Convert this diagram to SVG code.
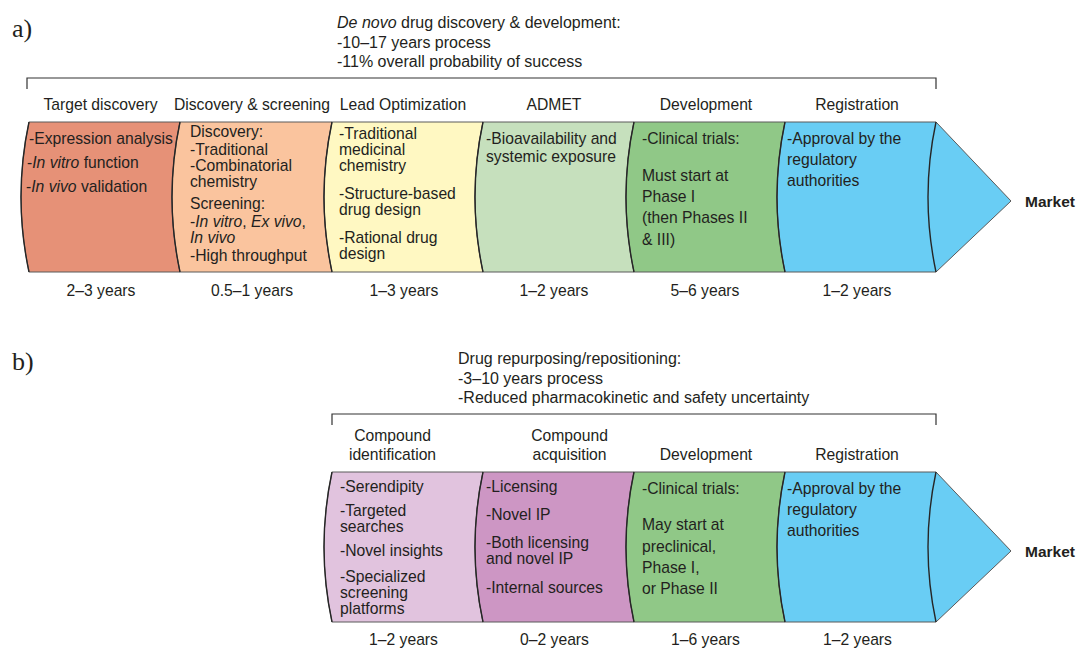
<svg xmlns="http://www.w3.org/2000/svg" width="1077" height="648" viewBox="0 0 1077 648">
<style>
text{font-family:"Liberation Sans",Arial,Helvetica,sans-serif;fill:#231f20;font-size:15.7px}
.h{font-size:16px}
.c{text-anchor:middle}
.i{font-style:italic}
.mk{font-weight:bold;font-size:15.5px}
.pl{font-family:"Liberation Serif","Times New Roman",serif;font-size:26px}
.seg{stroke:#5a5a5a;stroke-width:1}
.cv{fill:none;stroke:#262626;stroke-width:1.4}
.br{fill:none;stroke:#333;stroke-width:1.2}
</style>
<rect width="1077" height="648" fill="#fff"/>

<text class="pl" x="12" y="37">a)</text>
<text class="pl" x="12" y="370">b)</text>

<g id="header-a">
<text class="h" x="337" y="28"><tspan class="i">De novo</tspan> drug discovery &amp; development:</text>
<text class="h" x="337" y="47.5">-10–17 years process</text>
<text class="h" x="337" y="67">-11% overall probability of success</text>
</g>
<g id="header-b">
<text class="h" x="458" y="364">Drug repurposing/repositioning:</text>
<text class="h" x="458" y="383.5">-3–10 years process</text>
<text class="h" x="458" y="403">-Reduced pharmacokinetic and safety uncertainty</text>
</g>

<g id="connectors">
<path class="br" d="M27,89 V78 H936 V89"/>
<path class="br" d="M332,425 V414 H936 V425"/>
</g>

<!-- Row a -->
<g id="a-target">
<text class="c" x="100.5" y="110">Target discovery</text>
<path class="seg" fill="#e69177" d="M29,122 L180,122 Q164,197 180,272 L29,272 Q13,197 29,122 Z"/>
<path class="cv" d="M29,122 Q13,197 29,272"/>
<text x="29" y="144">-Expression analysis</text>
<text x="27" y="168">-<tspan class="i">In vitro</tspan> function</text>
<text x="26" y="192">-<tspan class="i">In vivo</tspan> validation</text>
<text class="c" x="101" y="296">2–3 years</text>
</g>
<g id="a-discovery">
<text class="c" x="252" y="110">Discovery &amp; screening</text>
<path class="seg" fill="#fac49e" d="M180,122 L332,122 Q316,197 332,272 L180,272 Q164,197 180,122 Z"/>
<path class="cv" d="M180,122 Q164,197 180,272"/>
<text x="190" y="137">Discovery:</text>
<text x="190" y="155">-Traditional</text>
<text x="190" y="171">-Combinatorial</text>
<text x="190" y="187">chemistry</text>
<text x="190" y="209">Screening:</text>
<text x="190" y="227">-<tspan class="i">In vitro</tspan>, <tspan class="i">Ex vivo</tspan>,</text>
<text x="190" y="243" class="i">In vivo</text>
<text x="190" y="261">-High throughput</text>
<text class="c" x="252" y="296">0.5–1 years</text>
</g>
<g id="a-lead">
<text class="c" x="403" y="110">Lead Optimization</text>
<path class="seg" fill="#fff8c2" d="M332,122 L483,122 Q467,197 483,272 L332,272 Q316,197 332,122 Z"/>
<path class="cv" d="M332,122 Q316,197 332,272"/>
<text x="339" y="139">-Traditional</text>
<text x="339" y="155">medicinal</text>
<text x="339" y="171">chemistry</text>
<text x="339" y="199">-Structure-based</text>
<text x="339" y="215">drug design</text>
<text x="339" y="243">-Rational drug</text>
<text x="339" y="259">design</text>
<text class="c" x="404" y="296">1–3 years</text>
</g>
<g id="a-admet">
<text class="c" x="554" y="110">ADMET</text>
<path class="seg" fill="#c6e0bd" d="M483,122 L634,122 Q618,197 634,272 L483,272 Q467,197 483,122 Z"/>
<path class="cv" d="M483,122 Q467,197 483,272"/>
<text x="486" y="144">-Bioavailability and</text>
<text x="486" y="162">systemic exposure</text>
<text class="c" x="554" y="296">1–2 years</text>
</g>
<g id="a-development">
<text class="c" x="706" y="110">Development</text>
<path class="seg" fill="#90c887" d="M634,122 L785,122 Q769,197 785,272 L634,272 Q618,197 634,122 Z"/>
<path class="cv" d="M634,122 Q618,197 634,272"/>
<text x="642" y="144">-Clinical trials:</text>
<text x="642" y="181">Must start at</text>
<text x="642" y="202">Phase I</text>
<text x="642" y="223">(then Phases II</text>
<text x="642" y="245">&amp; III)</text>
<text class="c" x="705" y="296">5–6 years</text>
</g>
<g id="a-registration">
<text class="c" x="857" y="110">Registration</text>
<path class="seg" fill="#69cdf4" d="M785,122 L936,122 L1011,201 L936,272 L785,272 Q769,197 785,122 Z"/>
<path class="cv" d="M785,122 Q769,197 785,272"/>
<path class="cv" d="M936,122 Q920,197 936,272"/>
<text x="787" y="144">-Approval by the</text>
<text x="787" y="165">regulatory</text>
<text x="787" y="186">authorities</text>
<text class="c" x="857" y="296">1–2 years</text>
</g>
<g id="a-market">
<text class="mk" x="1025" y="206.5">Market</text>
</g>

<!-- Row b -->
<g id="b-identification">
<text class="c" x="392.5" y="441">Compound</text>
<text class="c" x="392.5" y="460">identification</text>
<path class="seg" fill="#e1c3de" d="M332,472 L483,472 Q467,547 483,622 L332,622 Q316,547 332,472 Z"/>
<path class="cv" d="M332,472 Q316,547 332,622"/>
<text x="340" y="492">-Serendipity</text>
<text x="340" y="516">-Targeted</text>
<text x="340" y="532">searches</text>
<text x="340" y="556">-Novel insights</text>
<text x="340" y="582">-Specialized</text>
<text x="340" y="598">screening</text>
<text x="340" y="614">platforms</text>
<text class="c" x="403.5" y="645">1–2 years</text>
</g>
<g id="b-acquisition">
<text class="c" x="569.5" y="441">Compound</text>
<text class="c" x="569.5" y="460">acquisition</text>
<path class="seg" fill="#cd96c4" d="M483,472 L634,472 Q618,547 634,622 L483,622 Q467,547 483,472 Z"/>
<path class="cv" d="M483,472 Q467,547 483,622"/>
<text x="486" y="492">-Licensing</text>
<text x="486" y="520">-Novel IP</text>
<text x="486" y="548">-Both licensing</text>
<text x="486" y="564">and novel IP</text>
<text x="486" y="593">-Internal sources</text>
<text class="c" x="554.5" y="645">0–2 years</text>
</g>
<g id="b-development">
<text class="c" x="706" y="460">Development</text>
<path class="seg" fill="#90c887" d="M634,472 L785,472 Q769,547 785,622 L634,622 Q618,547 634,472 Z"/>
<path class="cv" d="M634,472 Q618,547 634,622"/>
<text x="642" y="494">-Clinical trials:</text>
<text x="642" y="530">May start at</text>
<text x="642" y="552">preclinical,</text>
<text x="642" y="573">Phase I,</text>
<text x="642" y="594">or Phase II</text>
<text class="c" x="705.5" y="645">1–6 years</text>
</g>
<g id="b-registration">
<text class="c" x="857" y="460">Registration</text>
<path class="seg" fill="#69cdf4" d="M785,472 L936,472 L1011,551 L936,622 L785,622 Q769,547 785,472 Z"/>
<path class="cv" d="M785,472 Q769,547 785,622"/>
<path class="cv" d="M936,472 Q920,547 936,622"/>
<text x="787" y="494">-Approval by the</text>
<text x="787" y="515">regulatory</text>
<text x="787" y="536">authorities</text>
<text class="c" x="857.5" y="645">1–2 years</text>
</g>
<g id="b-market">
<text class="mk" x="1025" y="556.5">Market</text>
</g>
</svg>
